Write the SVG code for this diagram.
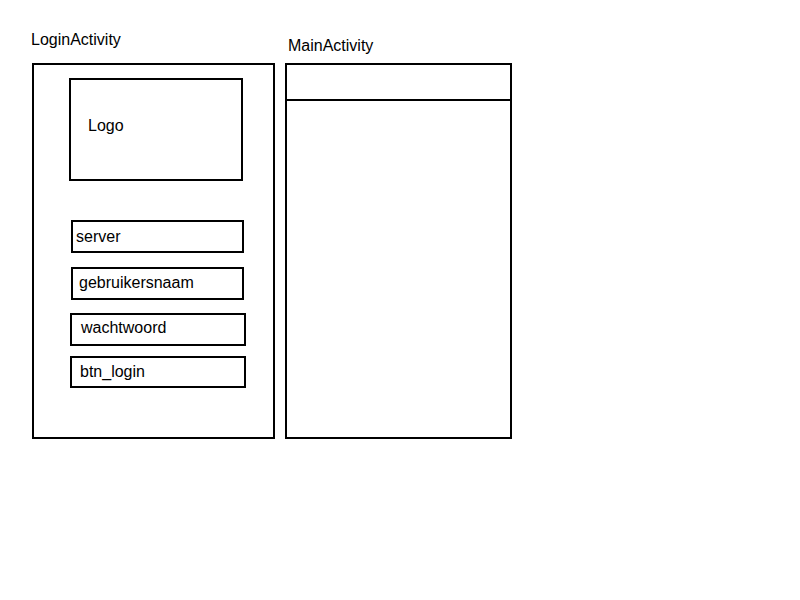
<svg xmlns="http://www.w3.org/2000/svg" width="800" height="600" viewBox="0 0 800 600">
<style>
.box{fill:#fff;stroke:#000;stroke-width:2}
.ln{stroke:#000;stroke-width:2;fill:none}
text{font-family:"Liberation Sans",Arial,sans-serif;font-size:16px;fill:#000}
</style>
<rect width="800" height="600" fill="#fff"/>
<g id="login-activity">
<text x="31" y="45">LoginActivity</text>
<rect class="box" x="33" y="64" width="241" height="374"/>
</g>
<g id="logo">
<rect class="box" x="70" y="79" width="172" height="101"/>
<text x="88" y="131">Logo</text>
</g>
<g id="server">
<rect class="box" x="72" y="221" width="171" height="31"/>
<text x="76" y="242">server</text>
</g>
<g id="gebruikersnaam">
<rect class="box" x="72" y="268" width="171" height="31"/>
<text x="79" y="288">gebruikersnaam</text>
</g>
<g id="wachtwoord">
<rect class="box" x="71" y="314" width="174" height="31"/>
<text x="81" y="333">wachtwoord</text>
</g>
<g id="btn_login">
<rect class="box" x="71" y="357" width="174" height="30"/>
<text x="80" y="377">btn_login</text>
</g>
<g id="main-activity">
<text x="288" y="51">MainActivity</text>
<rect class="box" x="286" y="64" width="225" height="374"/>
<line class="ln" x1="286" y1="100" x2="511" y2="100"/>
</g>
<g id="connectors"></g>
</svg>
